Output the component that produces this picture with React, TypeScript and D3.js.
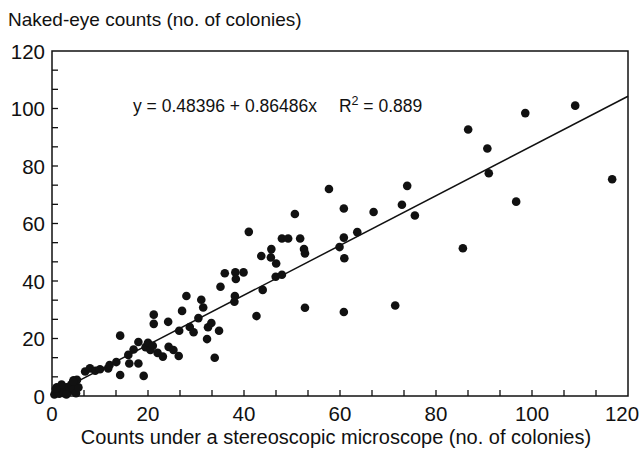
import React from "react";
import * as d3 from "d3";

const xValues: number[] = [
  0.5, 1, 1.5, 2, 2.5, 3, 3.5, 4, 4.5, 5, 5.5, 1, 2, 3, 4.5, 0.8, 5.2, 4.4,
  6.9, 7.9, 9, 10, 11.7, 12, 13.4, 14.2, 14.2, 15.9, 16.1, 17, 18, 18, 19.1, 19.5, 20, 20.5, 21,
  21.2, 21.2, 22, 23.1, 24.2, 24.3, 25.3, 26.4, 26.5, 27.1, 28, 28.7, 29.5, 30.5, 31.1, 31.5,
  32.3, 32.5, 33.2, 33.9, 34.8, 35.1, 36, 38, 38.1, 38.2, 38.3, 39.9, 41, 42.6, 43.9, 43.6,
  45.6, 45.7, 46.6, 46.7, 47.9, 47.9, 49.2, 50.6, 51.7, 52.5, 52.7, 52.7, 57.7, 59.9, 60.8,
  60.8, 60.9, 60.8, 63.6, 67, 71.5, 72.9, 74, 75.6, 85.6, 86.7, 90.7, 91, 96.7, 98.6, 109, 116.7,
];
const yValues: number[] = [
  0.5, 1.5, 0.8, 2.5, 1, 3, 1.5, 4, 2.5, 1, 3, 3, 4, 0.5, 5.5, 2.5, 5.6, 5,
  8.5, 9.6, 8.8, 9.3, 9.6, 10.8, 11.8, 7.3, 21, 14.3, 11.3, 16.2, 11.3, 18.8, 7, 17, 18.5, 16, 17.5,
  28.3, 25.1, 15, 13.7, 25.8, 17.1, 16, 13.9, 22.7, 29.6, 34.8, 24, 22.2, 27.1, 33.5, 30.8,
  19.8, 23.9, 25.4, 13.3, 22.7, 38, 42.7, 32.8, 34.8, 43, 40.7, 43, 57.1, 27.8, 36.9, 48.7,
  48.2, 51.1, 41.5, 46.1, 42.2, 54.8, 54.8, 63.3, 54.8, 51.1, 49.6, 30.7, 72, 51.8, 65.2,
  55.1, 47.9, 29.2, 57, 64, 31.5, 66.5, 73.1, 62.8, 51.4, 92.7, 86.1, 77.5, 67.6, 98.4, 101, 75.4,
];

const tickLabels: number[] = [0, 20, 40, 60, 80, 100, 120];
const intercept = 0.48396;
const slope = 0.86486;
const equationText = "y = 0.48396 + 0.86486x";
const r2Text = "0.889";
const yTitle = "Naked-eye counts (no. of colonies)";
const xTitle = "Counts under a stereoscopic microscope (no. of colonies)";

const W = 643;
const H = 455;
const left = 52;
const right = 628;
const top = 51;
const bottom = 396;
const font = "'Liberation Sans', Arial, Helvetica, sans-serif";

export default function App() {
  const x = d3.scaleLinear().domain([0, 120]).range([left, right]);
  const y = d3.scaleLinear().domain([0, 120]).range([bottom, top]);
  const minorTicks = d3.range(0, 121, 20 / 3).filter((v) => v > 0.1 && v < 119.9);
  const pts = xValues.map((v, i) => [v, yValues[i]] as [number, number]);
  const line = d3.line<number>().x((v) => x(v)).y((v) => y(intercept + slope * v));

  return (
    <svg
      width={W}
      height={H}
      style={{ position: "absolute", left: 0, top: 0, background: "#fff" }}
      fontFamily={font}
    >
      <rect x={0} y={0} width={W} height={H} fill="#fff" />
      <text x={8} y={26} fontSize={19} fill="#111">{yTitle}</text>
      {/* frame */}
      <rect x={left} y={top} width={right - left} height={bottom - top} fill="none" stroke="#111" strokeWidth={1.5} />
      {/* ticks */}
      {minorTicks.map((t, i) => (
        <g key={"t" + i}>
          <line x1={x(t)} x2={x(t)} y1={bottom} y2={bottom - 6} stroke="#111" strokeWidth={1.3} />
          <line x1={left} x2={left + 6} y1={y(t)} y2={y(t)} stroke="#111" strokeWidth={1.3} />
        </g>
      ))}
      {tickLabels.map((t) => (
        <text key={"xl" + t} x={Math.min(x(t), W - 21)} y={421} fontSize={20.5} textAnchor="middle" fill="#111">{t}</text>
      ))}
      {tickLabels.map((t) => (
        <text key={"yl" + t} x={45} y={y(t) + 7.5} fontSize={20.5} textAnchor="end" fill="#111">{t}</text>
      ))}
      <text x={336} y={444} fontSize={20} textAnchor="middle" fill="#111">{xTitle}</text>
      {/* regression line */}
      <path d={line([0, 120]) || ""} stroke="#111" strokeWidth={1.5} fill="none" />
      {/* points */}
      {pts.map(([a, b], i) => (
        <circle key={"p" + i} cx={x(a)} cy={y(b)} r={4.3} fill="#111" />
      ))}
      <text x={133} y={112} fontSize={17.5} fill="#111">
        {equationText}
        <tspan dx={22}>R</tspan>
        <tspan dy={-7} fontSize={12.5}>2</tspan>
        <tspan dy={7}> = {r2Text}</tspan>
      </text>
    </svg>
  );
}
